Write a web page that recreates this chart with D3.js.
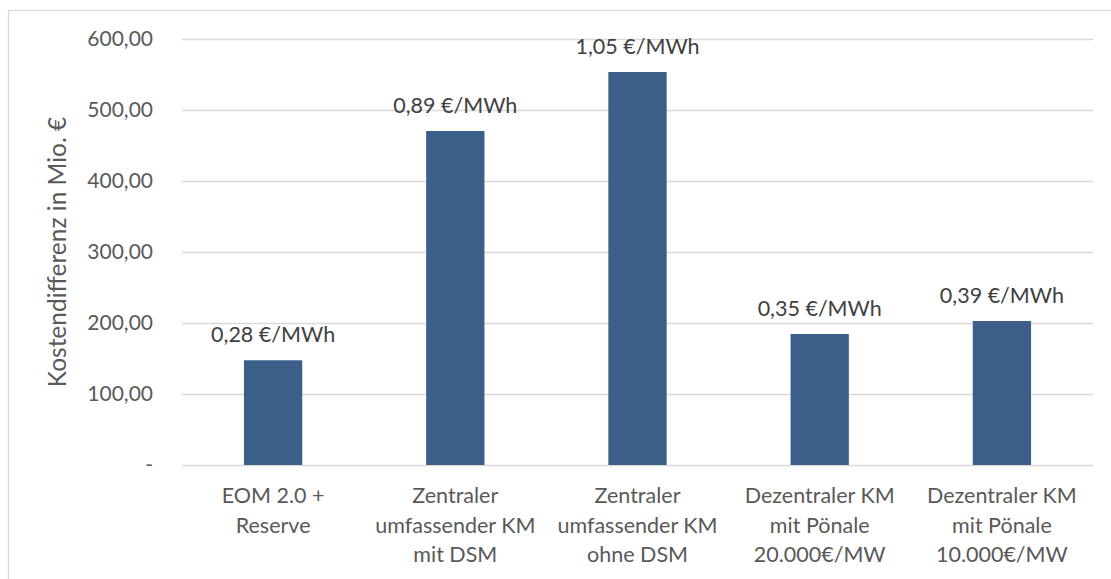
<!DOCTYPE html>
<html>
<head>
<meta charset="utf-8">
<script src="https://cdn.jsdelivr.net/npm/d3@7"></script>
<style>
  html, body { margin: 0; padding: 0; background: #ffffff; }
  svg { display: block; font-family: Lato, "Open Sans", sans-serif; }
</style>
</head>
<body>
<svg id="chart" width="1111" height="579"></svg>
<script>
// Cost differences per market design (Mio. €) and the specific cost per MWh
const categories = [
  ["EOM 2.0 +", "Reserve"],
  ["Zentraler", "umfassender KM", "mit DSM"],
  ["Zentraler", "umfassender KM", "ohne DSM"],
  ["Dezentraler KM", "mit Pönale", "20.000€/MW"],
  ["Dezentraler KM", "mit Pönale", "10.000€/MW"]
];
const values = [147.5, 470.4, 553.5, 184.5, 202.8];
const valueLabels = ["0,28 €/MWh", "0,89 €/MWh", "1,05 €/MWh", "0,35 €/MWh", "0,39 €/MWh"];
const yTicks = [0, 100, 200, 300, 400, 500, 600];
const yTitle = "Kostendifferenz in Mio. €";

const svg = d3.select("#chart");
const W = 1111, H = 579;
const margin = { left: 182, right: 18, top: 39, bottom: 114 };

// outer chart frame (clipped at right and bottom)
svg.append("rect")
  .attr("x", 8.5).attr("y", 10.5)
  .attr("width", W + 10).attr("height", H + 10)
  .attr("fill", "none").attr("stroke", "#d9d9d9").attr("stroke-width", 1.3);

const x = d3.scaleBand()
  .domain(d3.range(categories.length))
  .range([margin.left, W - margin.right])
  .paddingInner(0.68).paddingOuter(0.34);

const y = d3.scaleLinear()
  .domain([0, 600])
  .range([H - margin.bottom, margin.top]);

const fmt = v => v === 0 ? "-" : d3.format(".2f")(v).replace(".", ",");

// y axis: gridlines and tick labels
const yAxis = d3.axisLeft(y)
  .tickValues(yTicks)
  .tickSize(-(W - margin.right - margin.left))
  .tickPadding(29)
  .tickFormat(fmt);

const gy = svg.append("g")
  .attr("transform", `translate(${margin.left},0)`)
  .call(yAxis);
gy.select(".domain").remove();
gy.selectAll(".tick line").attr("stroke", "#d9d9d9").attr("stroke-width", 1.5);
gy.selectAll(".tick text")
  .attr("fill", "#595959")
  .style("font-size", "21px")
  .style("font-family", "Lato, sans-serif");

// bars
svg.append("g").selectAll("rect")
  .data(values)
  .join("rect")
  .attr("x", (d, i) => x(i))
  .attr("y", d => y(d))
  .attr("width", x.bandwidth())
  .attr("height", d => y(0) - y(d))
  .attr("fill", "#3c5f8a");

// value labels above bars
svg.append("g").selectAll("text")
  .data(values)
  .join("text")
  .attr("x", (d, i) => x(i) + x.bandwidth() / 2)
  .attr("y", d => y(d) - 18)
  .attr("text-anchor", "middle")
  .attr("fill", "#404040")
  .style("font-size", "21.5px")
  .text((d, i) => valueLabels[i]);

// category labels (multi-line)
const xAxis = d3.axisBottom(x).tickSize(0).tickFormat(() => "");
const gx = svg.append("g")
  .attr("transform", `translate(0,${y(0)})`)
  .call(xAxis);
gx.select(".domain").remove();
gx.selectAll(".tick").each(function (d) {
  const t = d3.select(this).append("text")
    .attr("text-anchor", "middle")
    .attr("fill", "#595959")
    .style("font-size", "21.5px")
    .style("font-family", "Lato, sans-serif");
  categories[d].forEach((line, k) => {
    t.append("tspan")
      .attr("x", 0)
      .attr("y", 38 + k * 29.5)
      .text(line);
  });
});

// y axis title
svg.append("text")
  .attr("transform", `translate(66,${(y(0) + y(600)) / 2}) rotate(-90)`)
  .attr("text-anchor", "middle")
  .attr("fill", "#595959")
  .style("font-size", "24.5px")
  .text(yTitle);
</script>
</body>
</html>
